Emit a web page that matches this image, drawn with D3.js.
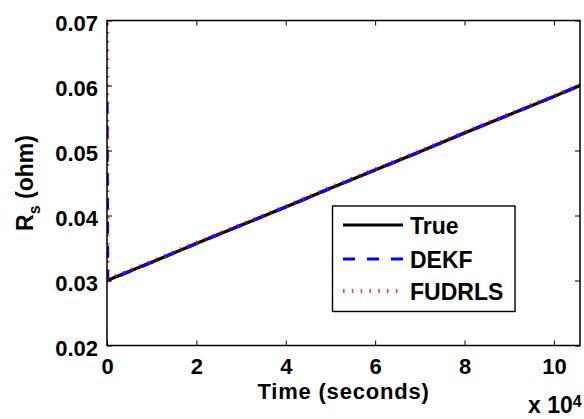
<!DOCTYPE html>
<html>
<head>
<meta charset="utf-8">
<script src="https://cdn.jsdelivr.net/npm/d3@7"></script>
<style>
  html, body { margin: 0; padding: 0; background: #fff; }
  svg { display: block; }
  text { font-family: "Liberation Sans", Arial, Helvetica, sans-serif; font-weight: bold; fill: #000; }
</style>
</head>
<body>
<svg id="chart" width="584" height="419"></svg>
<script>
// Series resistance R_s over time: true value and two estimators
const timeTrue = [0, 10000, 20000, 30000, 40000, 50000, 60000, 70000, 80000, 90000, 100000, 105840];
const rsTrue   = [0.0300, 0.0328, 0.0357, 0.0385, 0.0413, 0.0442, 0.0470, 0.0498, 0.0527, 0.0555, 0.0583, 0.0600];

const timeEst  = [0, 150, 10000, 20000, 30000, 40000, 50000, 60000, 70000, 80000, 90000, 100000, 105840];
const rsDEKF   = [0.0575, 0.0300, 0.0328, 0.0357, 0.0385, 0.0413, 0.0442, 0.0470, 0.0498, 0.0527, 0.0555, 0.0583, 0.0600];
const rsFUDRLS = [0.0750, 0.0302, 0.0329, 0.0358, 0.0386, 0.0414, 0.0443, 0.0471, 0.0499, 0.0528, 0.0556, 0.0584, 0.0601];

const xTicks = [0, 20000, 40000, 60000, 80000, 100000];
const yTicks = [0.02, 0.03, 0.04, 0.05, 0.06, 0.07];
const seriesNames = ["True", "DEKF", "FUDRLS"];

const svg = d3.select("#chart");
const plotLeft = 107, plotRight = 580, plotTop = 20.5, plotBottom = 345.5;

const x = d3.scaleLinear().domain([0, 105840]).range([plotLeft, plotRight]);
const y = d3.scaleLinear().domain([0.02, 0.07]).range([plotBottom, plotTop]);

svg.append("defs").append("clipPath").attr("id", "plotClip")
  .append("rect").attr("x", plotLeft).attr("y", plotTop)
  .attr("width", plotRight - plotLeft).attr("height", plotBottom - plotTop);

const styles = [
  { color: "#000000", width: 3.2, dash: null, opacity: 1 },
  { color: "#0000ff", width: 3.2, dash: "12,12", opacity: 1 },
  { color: "#ff0000", width: 4.2, dash: "1.6,7.2", opacity: 0.75 }
];

const series = [
  timeTrue.map((t, i) => [t, rsTrue[i]]),
  timeEst.map((t, i) => [t, rsDEKF[i]]),
  timeEst.map((t, i) => [t, rsFUDRLS[i]])
];

const line = d3.line().x(d => x(d[0])).y(d => y(d[1]));
const plot = svg.append("g").attr("clip-path", "url(#plotClip)");
series.forEach((s, i) => {
  plot.append("path")
    .datum(s)
    .attr("d", line)
    .attr("fill", "none")
    .attr("stroke", styles[i].color)
    .attr("stroke-opacity", styles[i].opacity)
    .attr("stroke-width", styles[i].width)
    .attr("stroke-dasharray", styles[i].dash)
    .attr("stroke-linejoin", "miter")
    .attr("stroke-linecap", "butt");
});

// Axes: inward ticks on all four sides, boxed
const tickLen = 5;
const axisFont = "22px";

const xBottom = svg.append("g").attr("transform", `translate(0,${plotBottom})`)
  .call(d3.axisBottom(x).tickValues(xTicks).tickSize(-tickLen).tickPadding(12)
    .tickFormat(d => d3.format("d")(d / 10000)));
const xTop = svg.append("g").attr("transform", `translate(0,${plotTop})`)
  .call(d3.axisTop(x).tickValues(xTicks).tickSize(-tickLen).tickFormat(""));
const yLeft = svg.append("g").attr("transform", `translate(${plotLeft},0)`)
  .call(d3.axisLeft(y).tickValues(yTicks).tickSize(-tickLen).tickPadding(9)
    .tickFormat(d3.format(".2f")));
const yRight = svg.append("g").attr("transform", `translate(${plotRight},0)`)
  .call(d3.axisRight(y).tickValues(yTicks).tickSize(-tickLen).tickFormat(""));

[xBottom, xTop, yLeft, yRight].forEach(g => {
  g.select(".domain").remove();
  g.selectAll(".tick line").attr("stroke", "#000").attr("stroke-width", 1);
  g.selectAll(".tick text").style("font-size", axisFont).attr("fill", "#000");
});
xBottom.selectAll(".tick text").attr("dy", "0.71em").attr("y", 13);
yLeft.selectAll(".tick text").attr("dy", "0.45em");

svg.append("rect")
  .attr("x", plotLeft).attr("y", plotTop)
  .attr("width", plotRight - plotLeft).attr("height", plotBottom - plotTop)
  .attr("fill", "none").attr("stroke", "#000").attr("stroke-width", 1.5);

// Axis titles
svg.append("text")
  .attr("x", (plotLeft + plotRight) / 2).attr("y", 399)
  .attr("text-anchor", "middle")
  .style("font-size", "22px")
  .style("letter-spacing", "0.8px")
  .text("Time (seconds)");

const yTitle = svg.append("text")
  .attr("transform", `translate(33,${(plotTop + plotBottom) / 2}) rotate(-90)`)
  .attr("text-anchor", "middle")
  .style("font-size", "23px");
yTitle.append("tspan").text("R");
yTitle.append("tspan").attr("dy", 7).style("font-size", "16px").text("s");
yTitle.append("tspan").attr("dy", -7).text(" (ohm)");

// Exponent label for the x axis
const expLabel = svg.append("text")
  .attr("x", 528).attr("y", 413)
  .attr("text-anchor", "start")
  .style("font-size", "23px");
expLabel.append("tspan").text("x 10");
expLabel.append("tspan").attr("dy", -6.5).style("font-size", "16px").text("4");

// Legend
const legend = svg.append("g");
legend.append("rect")
  .attr("x", 332.5).attr("y", 206)
  .attr("width", 182.5).attr("height", 105.5)
  .attr("fill", "#fff").attr("stroke", "#000").attr("stroke-width", 1.4);
const legendY = [225, 259, 291];
seriesNames.forEach((name, i) => {
  legend.append("line")
    .attr("x1", 343).attr("x2", 403)
    .attr("y1", legendY[i]).attr("y2", legendY[i])
    .attr("stroke", styles[i].color)
    .attr("stroke-opacity", styles[i].opacity)
    .attr("stroke-width", styles[i].width)
    .attr("stroke-dasharray", styles[i].dash);
  legend.append("text")
    .attr("x", 410).attr("y", legendY[i])
    .attr("dy", "0.38em")
    .style("font-size", "23px")
    .text(name);
});
</script>
</body>
</html>
